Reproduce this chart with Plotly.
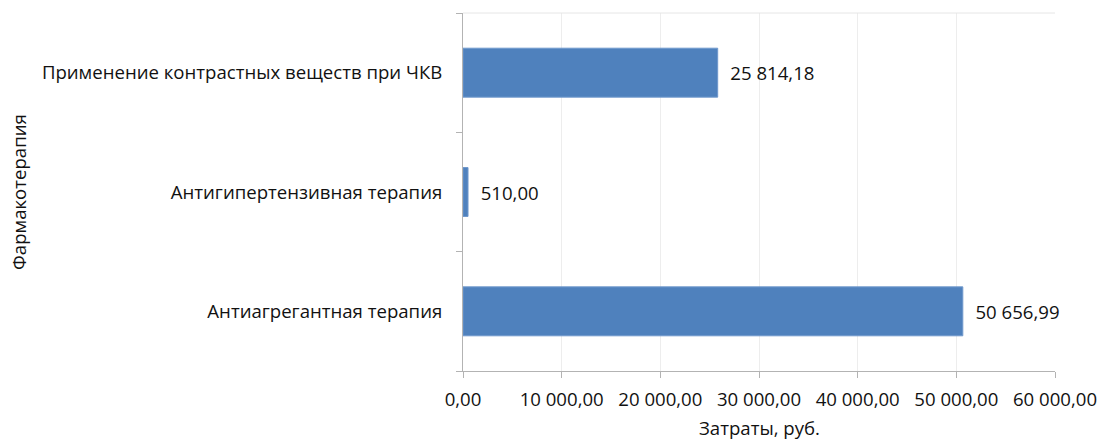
import plotly.graph_objects as go

# Cost per pharmacotherapy category, roubles
categories = [
    "Антиагрегантная терапия",
    "Антигипертензивная терапия",
    "Применение контрастных веществ при ЧКВ",
]
costs = [50656.99, 510.00, 25814.18]
x_ticks = [0, 10000, 20000, 30000, 40000, 50000, 60000]

FONT = "Open Sans, Segoe UI, sans-serif"
SIZE = 18.6
TXT = "#111111"
BAR = "#4F81BD"
AXIS = "#B3B3B3"

fig = go.Figure(
    go.Bar(
        x=costs,
        y=categories,
        orientation="h",
        width=0.41,
        marker=dict(color=BAR, line=dict(color="#6F98CC", width=1)),
        texttemplate="  %{x:,.2f}",
        textposition="outside",
        textfont=dict(family=FONT, size=SIZE, color=TXT),
        cliponaxis=False,
        hoverinfo="skip",
    )
)

fig.update_layout(
    width=1099,
    height=443,
    margin=dict(l=463, r=44, t=13, b=72),
    paper_bgcolor="white",
    plot_bgcolor="white",
    separators=", ",
    showlegend=False,
    font=dict(family=FONT, size=SIZE, color=TXT),
)

fig.update_xaxes(
    range=[0, 60000],
    tickvals=x_ticks,
    tickformat=",.2f",
    showgrid=True,
    gridcolor="#EDEDED",
    gridwidth=1,
    zeroline=False,
    showline=True,
    linecolor=AXIS,
    linewidth=1,
    ticks="outside",
    ticklen=6,
    tickcolor=AXIS,
    ticklabelstandoff=6,
    tickfont=dict(family=FONT, size=SIZE, color=TXT),
    automargin=False,
)

fig.update_yaxes(
    categoryorder="array",
    categoryarray=categories,
    showgrid=False,
    zeroline=False,
    showline=True,
    linecolor=AXIS,
    linewidth=1,
    ticks="outside",
    tickson="boundaries",
    ticklen=6,
    tickcolor=AXIS,
    ticklabelstandoff=16,
    tickfont=dict(family=FONT, size=SIZE, color=TXT),
    automargin=False,
)

# Axis titles
plot_w = 1099 - 463 - 44
plot_h = 443 - 13 - 72
fig.add_annotation(
    text="Затраты, руб.", xref="paper", yref="paper",
    x=0.5, y=-(427 - 371) / plot_h, xanchor="center", yanchor="middle",
    showarrow=False, font=dict(family=FONT, size=SIZE, color=TXT),
)
fig.add_annotation(
    text="Фармакотерапия", xref="paper", yref="paper",
    x=-(463 - 18) / plot_w, y=0.5, xanchor="center", yanchor="middle",
    textangle=-90, showarrow=False, font=dict(family=FONT, size=SIZE, color=TXT),
)

# Thin top border line of the plotting area
fig.add_shape(
    type="line", xref="paper", yref="paper",
    x0=0, x1=1, y0=1, y1=1,
    line=dict(color="#E6E6E6", width=1),
)

fig.write_html("out.html")
